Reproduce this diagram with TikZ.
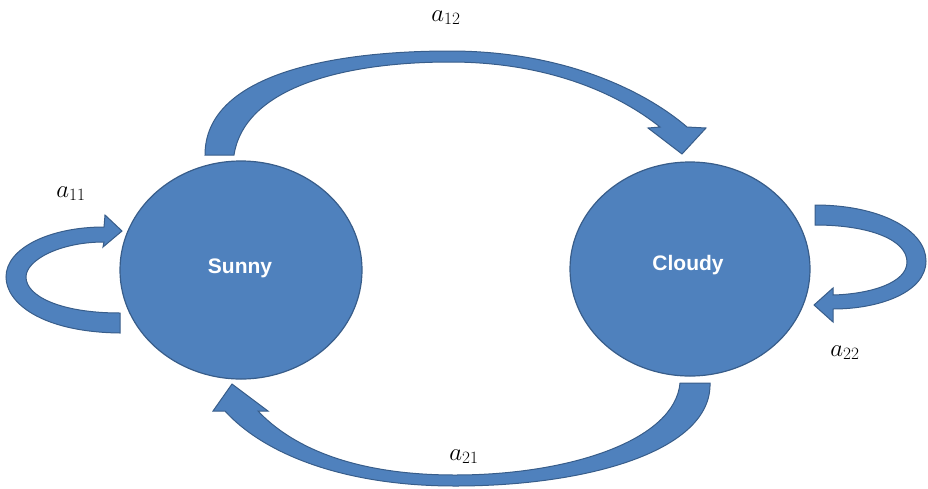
\documentclass[tikz,border=0pt]{standalone}
\usepackage{fontspec}
\setsansfont{Liberation Sans}
\usetikzlibrary{shapes.geometric}
\definecolor{blockfill}{RGB}{79,129,189}
\definecolor{blockline}{RGB}{56,93,138}
\tikzset{
  state/.style={ellipse, fill=blockfill, draw=blockline, line width=1.2pt, inner sep=0pt},
  statetext/.style={text=white, font=\sffamily\bfseries\fontsize{21}{24}\selectfont},
  blockarrow/.style={fill=blockfill, draw=blockline, line width=1pt, line join=miter},
  prob/.style={inner sep=0pt, font=\fontsize{26}{29}\selectfont}
}
\begin{document}
\begin{tikzpicture}[x=1pt,y=-1pt]
\useasboundingbox (0,0) rectangle (928,488);
% states
\node[state, minimum width=242pt, minimum height=218pt] (sunny) at (241,270) {};
\node[state, minimum width=240pt, minimum height=214pt] (cloudy) at (690,269) {};
\node[statetext] (sunnytxt) at (240,268) {Sunny};
\node[statetext] (cloudytxt) at (688,265) {Cloudy};
% a12: Sunny -> Cloudy (top)
\draw[blockarrow] (205,155) .. controls (205,75) and (330,51) .. (450,51)
  .. controls (570,51) and (650,95) .. (687,127)
  -- (706,128) -- (682,154) -- (648,128) -- (660,127)
  .. controls (620,95) and (550,62) .. (450,62)
  .. controls (350,62) and (245,85) .. (234,155) -- cycle;
% a21: Cloudy -> Sunny (bottom)
\draw[blockarrow] (710,383) .. controls (712,450) and (590,486) .. (455,486)
  .. controls (340,486) and (262,452) .. (225,411)
  -- (213,411) -- (232,384) -- (268,411) -- (258,411)
  .. controls (290,445) and (350,475) .. (455,475)
  .. controls (570,475) and (675,440) .. (680,383) -- cycle;
% a11: Sunny self loop (left)
\draw[blockarrow] (120,333) .. controls (40,332) and (6,302) .. (6,277)
  .. controls (6,248) and (50,227) .. (104,227)
  -- (105,215) -- (122,231) -- (103,247) -- (104,242)
  .. controls (60,242) and (26,260) .. (26,277)
  .. controls (26,296) and (60,313) .. (120,313) -- cycle;
% a22: Cloudy self loop (right)
\draw[blockarrow] (815,205) .. controls (880,205) and (926,230) .. (926,261)
  .. controls (926,292) and (880,309) .. (833,309)
  -- (833,322) -- (814,305) -- (833,288) -- (833,295)
  .. controls (870,294) and (907,283) .. (907,262)
  .. controls (907,240) and (870,225) .. (815,225) -- cycle;
% labels
\node[prob, anchor=base] (l12) at (446,21) {$a_{12}$};
\node[prob, anchor=base] (l11) at (71,197) {$a_{11}$};
\node[prob, anchor=base] (l22) at (845,356) {$a_{22}$};
\node[prob, anchor=base] (l21) at (464,460) {$a_{21}$};
\end{tikzpicture}
\end{document}
